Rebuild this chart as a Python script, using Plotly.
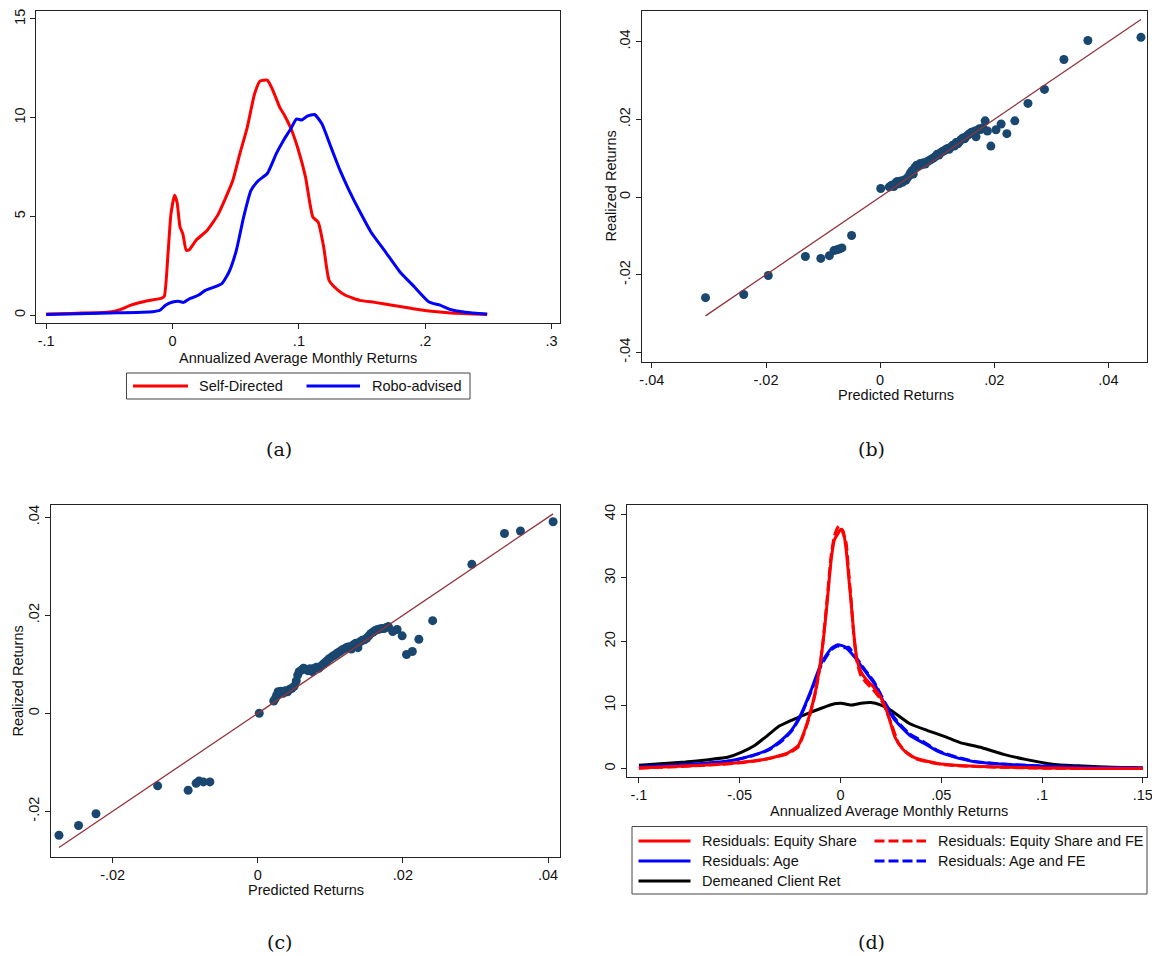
import plotly.graph_objects as go

# ---------------- data ----------------
# (a) kernel densities of annualized average monthly returns
sd_x = [-0.1, -0.05, -0.0416, -0.033, -0.0214, -0.0085, -0.0065, -0.0036, -0.0013, 0.0016, 0.0036,
        0.0059, 0.0082, 0.0108, 0.0131, 0.0188, 0.0275, 0.0361, 0.0476, 0.0534, 0.0591, 0.0649,
        0.0692, 0.075, 0.0793, 0.085, 0.0879, 0.0937, 0.0994, 0.1052, 0.111, 0.1153, 0.1196,
        0.1239, 0.1311, 0.1368, 0.1483, 0.1599, 0.1714, 0.1886, 0.203, 0.2203, 0.249]
sd_y = [0.05, 0.15, 0.27, 0.5, 0.7, 0.86, 0.95, 3.1, 5.1, 6.07, 5.7,
        4.46, 4.1, 3.28, 3.3, 3.8, 4.3, 5.1, 6.8, 8.2, 9.5, 11.2,
        11.85, 11.9, 11.4, 10.5, 10.2, 9.45, 8.4, 7.0, 4.97, 4.7, 3.45,
        1.76, 1.25, 1.0, 0.74, 0.64, 0.52, 0.34, 0.2, 0.1, 0.03]

robo_x = [-0.1, -0.05, -0.0157, -0.01, -0.0056, 0.0001, 0.0045, 0.0088, 0.0131, 0.0203, 0.026,
          0.0332, 0.039, 0.0447, 0.0505, 0.0563, 0.062, 0.0678, 0.075, 0.0822, 0.0879, 0.0937,
          0.098, 0.1023, 0.1066, 0.1124, 0.1181, 0.1253, 0.1325, 0.1397, 0.1483, 0.157, 0.1685,
          0.18, 0.1915, 0.203, 0.2117, 0.2203, 0.2318, 0.249]
robo_y = [0.02, 0.1, 0.17, 0.24, 0.5, 0.66, 0.7, 0.64, 0.81, 1.0, 1.25,
          1.42, 1.59, 2.18, 3.28, 4.97, 6.3, 6.8, 7.17, 8.19, 8.86, 9.45,
          9.93, 9.88, 10.08, 10.16, 9.7, 8.52, 7.34, 6.32, 5.23, 4.21, 3.2,
          2.18, 1.42, 0.66, 0.5, 0.27, 0.14, 0.05]

# (b) predicted vs realized returns
b_pred = [-0.0306, -0.0239, -0.0196, -0.0131, -0.0104, -0.0089, -0.0081, -0.0076, -0.0072, -0.0067,
          -0.0050, 0.0001,
          0.0016, 0.0020, 0.0024, 0.0027, 0.0030, 0.0033, 0.0036, 0.0039, 0.0042, 0.0045,
          0.0048, 0.0051, 0.0053, 0.0056, 0.0058, 0.0061, 0.0064, 0.0067, 0.0070, 0.0073,
          0.0076, 0.0079, 0.0082, 0.0085, 0.0088, 0.0091, 0.0094, 0.0097, 0.0100, 0.0103,
          0.0106, 0.0109, 0.0112, 0.0115, 0.0118, 0.0121, 0.0124, 0.0127, 0.0130, 0.0133,
          0.0136, 0.0139, 0.0142, 0.0145, 0.0148, 0.0151, 0.0154, 0.0157, 0.0160, 0.0163,
          0.0166, 0.0168, 0.0171, 0.0174, 0.0177, 0.0180,
          0.0184, 0.0188, 0.0194, 0.0203, 0.0212, 0.0222, 0.0236, 0.0259, 0.0288, 0.0322,
          0.0364, 0.0457]
b_real = [-0.0259, -0.0251, -0.0202, -0.0153, -0.0158, -0.0151, -0.0138, -0.0136, -0.0134, -0.0131,
          -0.0099, 0.0022,
          0.0026, 0.0030, 0.0027, 0.0036, 0.0040, 0.0034, 0.0041, 0.0038, 0.0044, 0.0043,
          0.0050, 0.0055, 0.0062, 0.0068, 0.0059, 0.0076, 0.0082, 0.0080, 0.0086, 0.0083,
          0.0088, 0.0085, 0.0091, 0.0093, 0.0096, 0.0098, 0.0101, 0.0105, 0.0110, 0.0108,
          0.0114, 0.0117, 0.0119, 0.0122, 0.0125, 0.0123, 0.0129, 0.0133, 0.0131, 0.0140,
          0.0137, 0.0143, 0.0148, 0.0152, 0.0150, 0.0156, 0.0160, 0.0163, 0.0167, 0.0164,
          0.0170, 0.0155, 0.0172, 0.0176, 0.0174, 0.0178,
          0.0196, 0.0170, 0.0131, 0.0173, 0.0188, 0.0163, 0.0196, 0.0241, 0.0277, 0.0354,
          0.0403, 0.0411]

# (c) predicted vs realized returns
c_pred = [-0.0274, -0.0247, -0.0223, -0.0138, -0.0096, -0.0085, -0.0081, -0.0075, -0.0066, 0.0002,
          0.0022, 0.0024, 0.0026, 0.0028, 0.0030, 0.0032, 0.0035, 0.0038, 0.0041, 0.0044,
          0.0047, 0.0050, 0.0053, 0.0055, 0.0057, 0.0060, 0.0063, 0.0066, 0.0069, 0.0072,
          0.0075, 0.0078, 0.0081, 0.0084, 0.0087, 0.0090, 0.0093, 0.0096, 0.0099, 0.0102,
          0.0105, 0.0108, 0.0111, 0.0114, 0.0117, 0.0120, 0.0123, 0.0126, 0.0129, 0.0132,
          0.0135, 0.0138, 0.0141, 0.0144, 0.0147, 0.0150, 0.0153, 0.0156, 0.0159, 0.0162,
          0.0165, 0.0168, 0.0171, 0.0174, 0.0177, 0.0180,
          0.0186, 0.0192, 0.0199, 0.0205, 0.0213, 0.0222, 0.0241, 0.0295, 0.0340, 0.0362,
          0.0407]
c_real = [-0.0249, -0.0229, -0.0205, -0.0148, -0.0157, -0.0143, -0.0138, -0.0140, -0.0140, 0.0000,
          0.0025, 0.0030, 0.0037, 0.0044, 0.0040, 0.0045, 0.0041, 0.0046, 0.0044, 0.0049,
          0.0051, 0.0055, 0.0066, 0.0078, 0.0085, 0.0088, 0.0092, 0.0090, 0.0087, 0.0091,
          0.0085, 0.0092, 0.0094, 0.0092, 0.0096, 0.0100, 0.0104, 0.0108, 0.0112, 0.0115,
          0.0118, 0.0121, 0.0124, 0.0127, 0.0130, 0.0132, 0.0135, 0.0136, 0.0131, 0.0140,
          0.0143, 0.0134, 0.0146, 0.0149, 0.0150, 0.0153, 0.0158, 0.0163, 0.0166, 0.0169,
          0.0171, 0.0172, 0.0173, 0.0173, 0.0175, 0.0177,
          0.0167, 0.0171, 0.0158, 0.0120, 0.0126, 0.0151, 0.0189, 0.0304, 0.0367, 0.0372,
          0.0391]

# (d) densities of residuals and demeaned client returns
es_x = [-0.1, -0.077, -0.0605, -0.049, -0.039, -0.0326, -0.026, -0.021, -0.0178, -0.0153,
        -0.0128, -0.0104, -0.0087, -0.0071, -0.0054, -0.0046, -0.003, -0.001, 0.0, 0.0013,
        0.0028, 0.0039, 0.0053, 0.0066, 0.0082, 0.0102, 0.0126, 0.0162, 0.0198, 0.0234,
        0.027, 0.0306, 0.0342, 0.0378, 0.0414, 0.05, 0.061, 0.079, 0.1008, 0.124, 0.15]
es_y = [0.1, 0.42, 0.7, 1.0, 1.4, 1.84, 2.5, 3.6, 6.0, 8.5,
        11.6, 15.8, 19.7, 24.5, 30.3, 32.9, 36.0, 37.1, 37.6, 37.4,
        34.5, 30.8, 26.0, 21.3, 17.1, 15.2, 14.1, 12.9, 11.3, 8.7,
        5.0, 3.2, 2.15, 1.6, 1.3, 0.73, 0.47, 0.26, 0.1, 0.05, 0.02]

esfe_x = [-0.1, -0.077, -0.0605, -0.049, -0.039, -0.0326, -0.026, -0.021, -0.0178, -0.0153,
          -0.0128, -0.0104, -0.0087, -0.0071, -0.0054, -0.0046, -0.003, -0.0012, -0.0003, 0.001,
          0.0028, 0.0039, 0.0053, 0.0066, 0.0082, 0.0102, 0.0126, 0.0162, 0.0198, 0.0216,
          0.0252, 0.0288, 0.0324, 0.0378, 0.0414, 0.05, 0.061, 0.079, 0.1008, 0.124, 0.15]
esfe_y = [0.08, 0.38, 0.65, 0.95, 1.35, 1.8, 2.4, 3.4, 5.8, 8.3,
          11.4, 15.6, 19.9, 25.0, 31.0, 33.6, 36.6, 38.0, 38.2, 37.3,
          35.5, 31.6, 26.5, 21.0, 16.8, 14.6, 13.6, 12.4, 11.0, 10.0,
          7.1, 4.0, 2.7, 1.5, 1.2, 0.68, 0.42, 0.22, 0.08, 0.04, 0.02]

age_x = [-0.1, -0.0688, -0.054, -0.044, -0.0359, -0.0293, -0.0243, -0.0194, -0.0145, -0.0095,
         -0.0046, -0.0013, 0.002, 0.0069, 0.0118, 0.0168, 0.0217, 0.027, 0.0342, 0.0414,
         0.0486, 0.0558, 0.0666, 0.0792, 0.099, 0.1242, 0.15]
age_y = [0.26, 0.8, 1.3, 2.05, 3.0, 4.5, 6.05, 8.7, 12.4, 16.6,
         18.9, 19.5, 19.2, 17.6, 15.5, 13.4, 10.3, 7.65, 5.3, 4.0,
         2.67, 1.9, 1.1, 0.73, 0.42, 0.2, 0.1]

agefe_x = [-0.1, -0.0688, -0.054, -0.044, -0.0359, -0.0293, -0.0243, -0.0194, -0.0145, -0.0095,
           -0.0046, -0.0013, 0.0015, 0.004, 0.0069, 0.0118, 0.0168, 0.0217, 0.027, 0.0342,
           0.0414, 0.0486, 0.0558, 0.0666, 0.0792, 0.099, 0.1242, 0.15]
agefe_y = [0.22, 0.75, 1.25, 2.0, 2.9, 4.3, 5.9, 8.5, 12.2, 16.3,
           18.7, 19.3, 19.0, 19.1, 17.9, 15.7, 13.6, 10.6, 7.9, 5.5,
           4.2, 2.8, 2.0, 1.15, 0.75, 0.43, 0.21, 0.1]

dm_x = [-0.1, -0.077, -0.0655, -0.0556, -0.049, -0.0424, -0.0359, -0.0309, -0.0243, -0.0161,
        -0.0095, -0.003, 0.0003, 0.0053, 0.0102, 0.0151, 0.0201, 0.025, 0.0342, 0.0432,
        0.0522, 0.0594, 0.0702, 0.081, 0.0918, 0.1062, 0.1206, 0.135, 0.15]
dm_y = [0.53, 1.05, 1.42, 1.84, 2.6, 3.7, 5.3, 6.6, 7.6, 8.7,
        9.5, 10.2, 10.3, 10.0, 10.3, 10.4, 10.0, 9.2, 7.1, 6.0,
        5.0, 4.1, 3.3, 2.25, 1.47, 0.68, 0.42, 0.21, 0.1]

# tick labels
a_xticks = [-0.1, 0, 0.1, 0.2, 0.3]
a_xlabels = ["-.1", "0", ".1", ".2", ".3"]
a_yticks = [0, 5, 10, 15]
a_ylabels = ["0", "5", "10", "15"]
b_ticks = [-0.04, -0.02, 0, 0.02, 0.04]
b_labels = ["-.04", "-.02", "0", ".02", ".04"]
c_xticks = [-0.02, 0, 0.02, 0.04]
c_xlabels = ["-.02", "0", ".02", ".04"]
c_yticks = [-0.02, 0, 0.02, 0.04]
c_ylabels = ["-.02", "0", ".02", ".04"]
d_xticks = [-0.1, -0.05, 0, 0.05, 0.1, 0.15]
d_xlabels = ["-.1", "-.05", "0", ".05", ".1", ".15"]
d_yticks = [0, 10, 20, 30, 40]
d_ylabels = ["0", "10", "20", "30", "40"]

# ---------------- styling ----------------
W, H = 1152, 956
SANS = "Liberation Sans, Arial, sans-serif"
SERIF = "DejaVu Serif, serif"
FS = 14.5
RED = "#ff0000"
BLUE = "#0000ff"
NAVY = "#1a476f"
MAROON = "#90353b"
AXC = "#222222"


def px(x):
    return x / W


def py(y):
    return 1 - y / H


def axis(domain, rng, tickvals, ticktext, anchor, vertical=False):
    d = dict(domain=domain, range=rng, tickvals=tickvals, ticktext=ticktext, anchor=anchor,
             showline=True, mirror=True, linecolor=AXC, linewidth=1,
             ticks="outside", ticklen=5, tickwidth=1, tickcolor=AXC,
             showgrid=False, zeroline=False, automargin=False,
             ticklabeloverflow="allow",
             tickfont=dict(family=SANS, size=FS, color="#111111"))
    if vertical:
        d["tickangle"] = -90
    return d


def curve(xs, ys, color, name, xa, ya, dash="solid"):
    return go.Scatter(x=xs, y=ys, mode="lines", name=name, xaxis=xa, yaxis=ya,
                      line=dict(color=color, width=3, dash=dash, shape="spline", smoothing=0.5))


fig = go.Figure()

# (a)
fig.add_trace(curve(sd_x, sd_y, RED, "Self-Directed", "x", "y"))
fig.add_trace(curve(robo_x, robo_y, BLUE, "Robo-advised", "x", "y"))

# (b)
fig.add_trace(go.Scatter(x=b_pred, y=b_real, mode="markers",
                         marker=dict(color=NAVY, size=9, line=dict(width=0)),
                         xaxis="x2", yaxis="y2"))
b_lo, b_hi = min(b_pred), max(b_pred)
fig.add_trace(go.Scatter(x=[b_lo, b_hi], y=[b_lo, b_hi], mode="lines",
                         line=dict(color=MAROON, width=1.3), xaxis="x2", yaxis="y2"))

# (c)
fig.add_trace(go.Scatter(x=c_pred, y=c_real, mode="markers",
                         marker=dict(color=NAVY, size=9, line=dict(width=0)),
                         xaxis="x3", yaxis="y3"))
c_lo, c_hi = min(c_pred), max(c_pred)
fig.add_trace(go.Scatter(x=[c_lo, c_hi], y=[c_lo, c_hi], mode="lines",
                         line=dict(color=MAROON, width=1.3), xaxis="x3", yaxis="y3"))

# (d)
DASH = "10px,4px"
fig.add_trace(curve(dm_x, dm_y, "black", "Demeaned Client Ret", "x4", "y4"))
fig.add_trace(curve(agefe_x, agefe_y, BLUE, "Residuals: Age and FE", "x4", "y4", DASH))
fig.add_trace(curve(age_x, age_y, BLUE, "Residuals: Age", "x4", "y4"))
fig.add_trace(curve(esfe_x, esfe_y, RED, "Residuals: Equity Share and FE", "x4", "y4", DASH))
fig.add_trace(curve(es_x, es_y, RED, "Residuals: Equity Share", "x4", "y4"))

layout = dict(
    width=W, height=H, margin=dict(l=0, r=0, t=0, b=0, autoexpand=False),
    paper_bgcolor="white", plot_bgcolor="white", showlegend=False,
    xaxis=axis([px(36.4), px(560)], [-0.10776, 0.30665], a_xticks, a_xlabels, "y"),
    yaxis=axis([py(323), py(11)], [-0.405, 15.405], a_yticks, a_ylabels, "x", True),
    xaxis2=axis([px(642), px(1147)], [-0.04173, 0.04676], b_ticks, b_labels, "y2"),
    yaxis2=axis([py(362), py(11)], [-0.04247, 0.04788], b_ticks, b_labels, "x2", True),
    xaxis3=axis([px(51), px(560)], [-0.0285, 0.04165], c_xticks, c_xlabels, "y3"),
    yaxis3=axis([py(857), py(505)], [-0.02933, 0.04251], c_yticks, c_ylabels, "x3", True),
    xaxis4=axis([px(626.7), px(1147)], [-0.10607, 0.1521], d_xticks, d_xlabels, "y4"),
    yaxis4=axis([py(777), py(505)], [-1.305, 41.46], d_yticks, d_ylabels, "x4", True),
)
fig.update_layout(**layout)

annotations = []
shapes = []


def text(x, y, s, size=FS, family=SANS, angle=0, xanchor="center"):
    annotations.append(dict(x=px(x), y=py(y), xref="paper", yref="paper", text=s,
                            showarrow=False, textangle=angle, xanchor=xanchor,
                            yanchor="middle", font=dict(family=family, size=size, color="#111111")))


# axis titles
text(298, 358, "Annualized Average Monthly Returns")
text(896, 395, "Predicted Returns")
text(610, 186.5, "Realized Returns", angle=-90)
text(305.5, 890, "Predicted Returns")
text(17.5, 681, "Realized Returns", angle=-90)
text(889, 811, "Annualized Average Monthly Returns")

# panel captions
text(279, 449, "(a)", size=19, family=SERIF)
text(871, 449, "(b)", size=19, family=SERIF)
text(279, 942, "(c)", size=19, family=SERIF)
text(871, 942, "(d)", size=19, family=SERIF)


def legend_box(x0, y0, x1, y1):
    shapes.append(dict(type="rect", xref="paper", yref="paper", x0=px(x0), y0=py(y1),
                       x1=px(x1), y1=py(y0), line=dict(color="#444444", width=1),
                       fillcolor="white"))


def legend_key(x0, x1, y, color, dash="solid"):
    shapes.append(dict(type="line", xref="paper", yref="paper", x0=px(x0), x1=px(x1),
                       y0=py(y), y1=py(y), line=dict(color=color, width=3, dash=dash)))


# legend (a)
legend_box(126.5, 373, 470, 399)
legend_key(133, 188, 386, RED)
text(197, 386, "Self-Directed", xanchor="left")
legend_key(306.5, 360, 386, BLUE)
text(370, 386, "Robo-advised", xanchor="left")

# legend (d)
legend_box(632, 826.5, 1147, 894)
legend_key(638.5, 690.5, 841, RED)
text(700, 841, "Residuals: Equity Share", xanchor="left")
legend_key(874.5, 926, 841, RED, DASH)
text(935.6, 841, "Residuals: Equity Share and FE", xanchor="left")
legend_key(638.5, 690.5, 861, BLUE)
text(700, 861, "Residuals: Age", xanchor="left")
legend_key(874.5, 926, 861, BLUE, DASH)
text(935.6, 861, "Residuals: Age and FE", xanchor="left")
legend_key(638.5, 690.5, 881, "black")
text(700, 881, "Demeaned Client Ret", xanchor="left")

fig.update_layout(annotations=annotations, shapes=shapes)
fig.write_html("out.html")
